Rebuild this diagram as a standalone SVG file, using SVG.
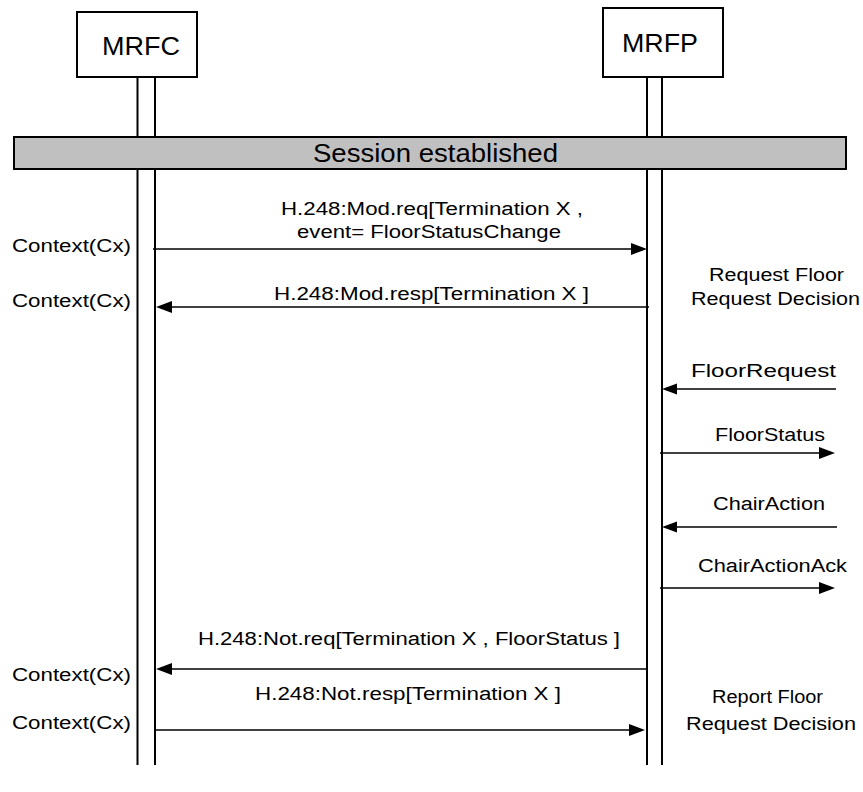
<svg xmlns="http://www.w3.org/2000/svg" width="863" height="792" viewBox="0 0 863 792">
<style>
text{font-family:"Liberation Sans",Arial,sans-serif;fill:#000}
.box{fill:#fff;stroke:#000;stroke-width:2}
.life{stroke:#000;stroke-width:2;fill:none}
.msg{stroke:#000;stroke-width:1.4;fill:none}
.lbl{font-size:18px}
.ctx{font-size:17.5px}
.head{fill:#000;stroke:none}
</style>
<rect width="863" height="792" fill="#fff"/>
<g id="MRFC">
<rect class="box" x="77" y="12" width="120" height="65"/>
<text x="102" y="55" font-size="26" textLength="78" lengthAdjust="spacingAndGlyphs">MRFC</text>
<line class="life" x1="137.5" y1="77" x2="137.5" y2="765"/>
<line class="life" x1="155" y1="77" x2="155" y2="765"/>
</g>
<g id="MRFP">
<rect class="box" x="603" y="8" width="120" height="69"/>
<text x="622" y="52" font-size="26" textLength="76" lengthAdjust="spacingAndGlyphs">MRFP</text>
<line class="life" x1="647" y1="77" x2="647" y2="765"/>
<line class="life" x1="662" y1="77" x2="662" y2="765"/>
</g>
<g id="session">
<rect x="14" y="137" width="832" height="32" fill="#c0c0c0" stroke="#000" stroke-width="2"/>
<text x="313" y="162" font-size="25" textLength="245" lengthAdjust="spacingAndGlyphs">Session established</text>
</g>
<g id="labels">
<text class="ctx" x="12" y="252" textLength="119" lengthAdjust="spacingAndGlyphs">Context(Cx)</text>
<text class="ctx" x="12" y="307" textLength="119" lengthAdjust="spacingAndGlyphs">Context(Cx)</text>
<text class="ctx" x="12" y="681" textLength="119" lengthAdjust="spacingAndGlyphs">Context(Cx)</text>
<text class="ctx" x="12" y="729" textLength="119" lengthAdjust="spacingAndGlyphs">Context(Cx)</text>
<text class="lbl" x="709" y="281" textLength="135" lengthAdjust="spacingAndGlyphs">Request Floor</text>
<text class="lbl" x="691" y="305" textLength="169" lengthAdjust="spacingAndGlyphs">Request Decision</text>
<text class="lbl" x="712" y="703" textLength="111" lengthAdjust="spacingAndGlyphs">Report Floor</text>
<text class="lbl" x="686" y="730" textLength="170" lengthAdjust="spacingAndGlyphs">Request Decision</text>
</g>
<g id="connectors">
<line class="msg" x1="153" y1="249" x2="634" y2="249"/>
<path class="head" d="M647,249 L631,243 L631,255 Z"/>
<text class="lbl" x="281" y="215" textLength="302" lengthAdjust="spacingAndGlyphs">H.248:Mod.req[Termination X ,</text>
<text class="lbl" x="297" y="238" textLength="264" lengthAdjust="spacingAndGlyphs">event= FloorStatusChange</text>

<line class="msg" x1="649" y1="307" x2="168" y2="307"/>
<path class="head" d="M156,307 L172,301 L172,313 Z"/>
<text class="lbl" x="274" y="300" textLength="315" lengthAdjust="spacingAndGlyphs">H.248:Mod.resp[Termination X ]</text>

<line class="msg" x1="836" y1="389" x2="675" y2="389"/>
<path class="head" d="M662,389 L677,383.5 L677,394.5 Z"/>
<text class="lbl" x="691" y="377" textLength="145" lengthAdjust="spacingAndGlyphs">FloorRequest</text>

<line class="msg" x1="660" y1="453" x2="822" y2="453"/>
<path class="head" d="M835,453 L819,447 L819,459 Z"/>
<text class="lbl" x="715" y="441" textLength="110" lengthAdjust="spacingAndGlyphs">FloorStatus</text>

<line class="msg" x1="837" y1="527" x2="675" y2="527"/>
<path class="head" d="M662,527 L677,521.5 L677,532.5 Z"/>
<text class="lbl" x="713" y="510" textLength="112" lengthAdjust="spacingAndGlyphs">ChairAction</text>

<line class="msg" x1="660" y1="588" x2="822" y2="588"/>
<path class="head" d="M835,588 L819,582 L819,594 Z"/>
<text class="lbl" x="698" y="572" textLength="149" lengthAdjust="spacingAndGlyphs">ChairActionAck</text>

<line class="msg" x1="646" y1="669" x2="168" y2="669"/>
<path class="head" d="M156,669 L172,663 L172,675 Z"/>
<text class="lbl" x="198" y="645" textLength="422" lengthAdjust="spacingAndGlyphs">H.248:Not.req[Termination X , FloorStatus ]</text>

<line class="msg" x1="155" y1="730" x2="632" y2="730"/>
<path class="head" d="M645,730 L629,724 L629,736 Z"/>
<text class="lbl" x="255" y="700" textLength="306" lengthAdjust="spacingAndGlyphs">H.248:Not.resp[Termination X ]</text>
</g>
</svg>
